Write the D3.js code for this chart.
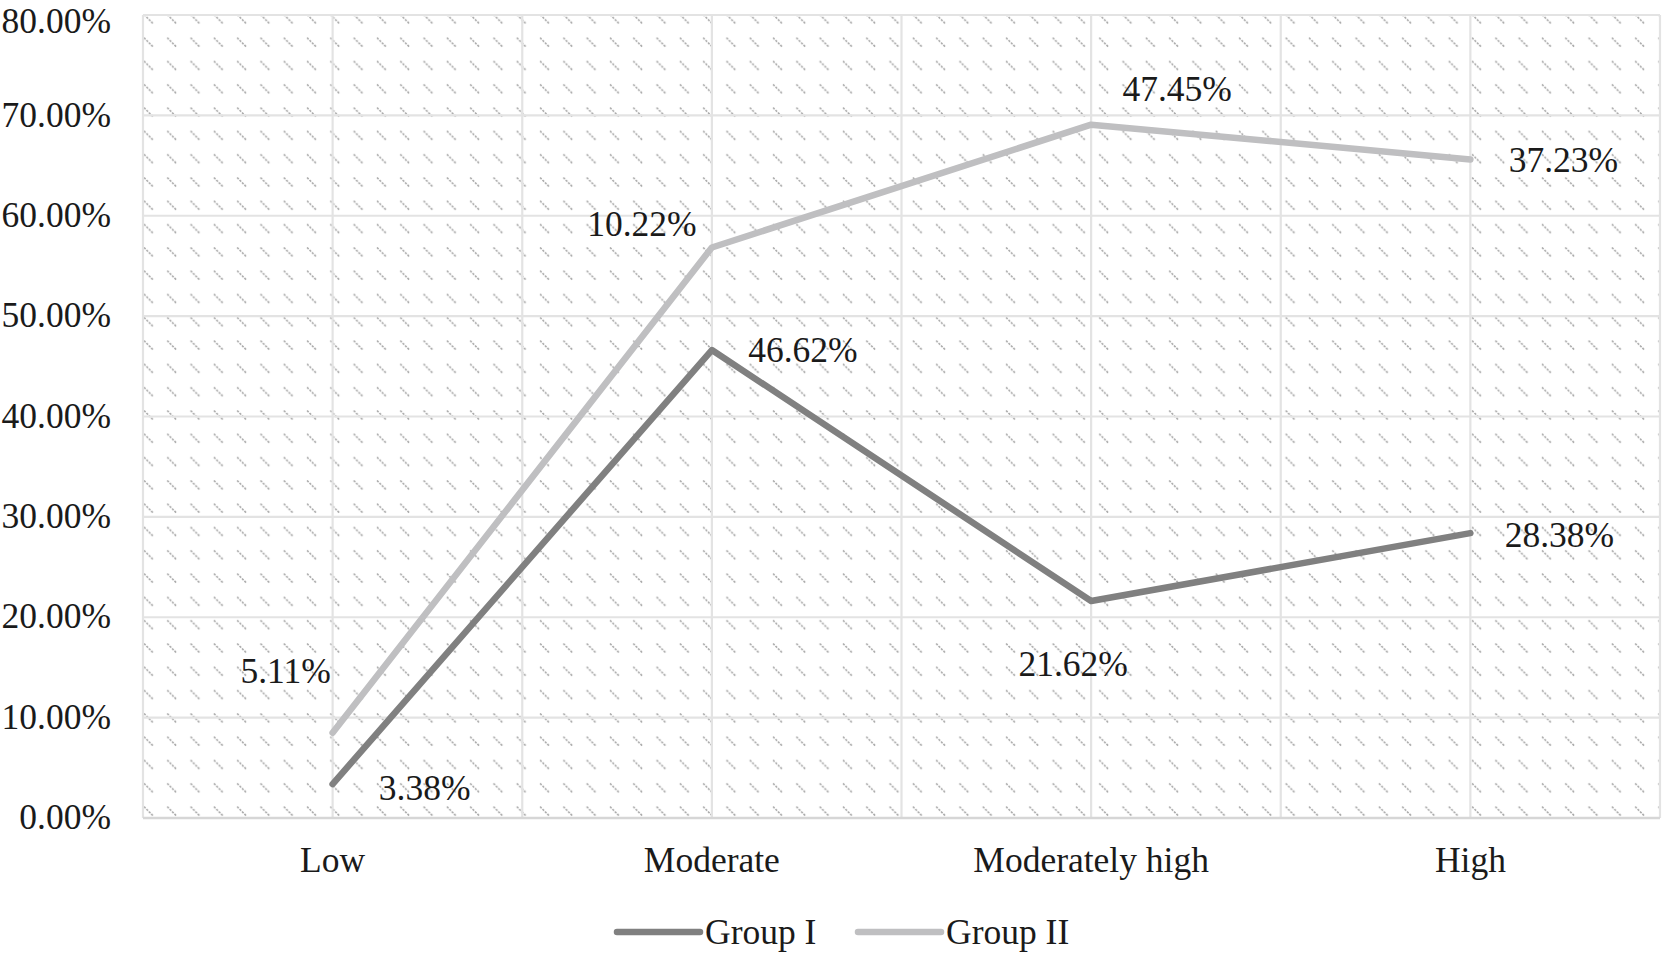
<!DOCTYPE html>
<html>
<head>
<meta charset="utf-8">
<script src="https://cdn.jsdelivr.net/npm/d3@7"></script>
<style>
  html, body { margin: 0; padding: 0; background: #fff; }
  svg text { font-family: "Liberation Serif", "Times New Roman", serif; fill: #1a1a1a; }
</style>
</head>
<body>
<svg id="chart" width="1663" height="957"></svg>
<script>
// ---- data ----
const categories = ["Low", "Moderate", "Moderately high", "High"];
const seriesNames = ["Group I", "Group II"];
const groupI = [3.38, 46.62, 21.62, 28.38];
const groupII = [5.11, 10.22, 47.45, 37.23];
const yTicks = [0, 10, 20, 30, 40, 50, 60, 70, 80];

// ---- layout / style (not data) ----
const W = 1663, H = 957;
const plot = { left: 143, top: 15, right: 1660, bottom: 818 };
const colors = ["#808080", "#bfbfc1"];
const fontSize = 35.5;
// label offsets [dx, dy] from point to label center/baseline, per series, per category
const labelOffsets = [
  [[92, 16], [91, 12], [-18, 75], [89, 14]],
  [[-47, -50], [-70, -11], [86, -24], [93, 13]]
];

const svg = d3.select("#chart");

const x = d3.scaleBand().domain(categories).range([plot.left, plot.right]).padding(0);
const xc = d => x(d) + x.bandwidth() / 2;
const y = d3.scaleLinear().domain([0, 80]).range([plot.bottom, plot.top]);

// stacked values
const stacked = d3.stack().keys([0, 1])(categories.map((c, i) => ({ 0: groupI[i], 1: groupII[i] })));

// pattern
const defs = svg.append("defs");
const cell = 23.3;
const pat = defs.append("pattern")
  .attr("id", "dash")
  .attr("patternUnits", "userSpaceOnUse")
  .attr("x", plot.left).attr("y", plot.top - 1)
  .attr("width", cell).attr("height", cell);
pat.append("line")
  .attr("x1", 1).attr("y1", 0.5).attr("x2", 10).attr("y2", 9.5)
  .attr("stroke", "#a9a9a9").attr("stroke-width", 1.6)
  .attr("stroke-dasharray", "2.2 1.2");

svg.append("rect")
  .attr("x", plot.left).attr("y", plot.top)
  .attr("width", plot.right - plot.left).attr("height", plot.bottom - plot.top)
  .attr("fill", "url(#dash)");

// horizontal gridlines
svg.append("g").selectAll("line").data(yTicks).join("line")
  .attr("x1", plot.left).attr("x2", plot.right)
  .attr("y1", d => y(d)).attr("y2", d => y(d))
  .attr("stroke", "#e3e3e3").attr("stroke-width", 2.2);

// vertical gridlines (band edges and centers)
const vLines = [];
categories.forEach(c => { vLines.push(x(c)); vLines.push(xc(c)); });
vLines.push(plot.right);
svg.append("g").selectAll("line").data(vLines).join("line")
  .attr("x1", d => d).attr("x2", d => d)
  .attr("y1", plot.top).attr("y2", plot.bottom)
  .attr("stroke", "#e3e3e3").attr("stroke-width", 2.2);

// bottom axis line
svg.append("line")
  .attr("x1", plot.left).attr("x2", plot.right)
  .attr("y1", plot.bottom).attr("y2", plot.bottom)
  .attr("stroke", "#d6d6d6").attr("stroke-width", 2.5);

// y axis labels
const yAxis = d3.axisLeft(y).tickValues(yTicks).tickSize(0).tickPadding(0)
  .tickFormat(d => d3.format(".2f")(d) + "%");
const gy = svg.append("g").attr("transform", `translate(${plot.left - 32},0)`).call(yAxis);
gy.select(".domain").remove();
gy.selectAll("text").attr("font-size", fontSize).attr("font-family", null).attr("fill", "#1a1a1a")
  .attr("dy", d => d === 80 ? "0.5em" : "0.3em");

// x axis labels
const xAxis = d3.axisBottom(x).tickSize(0).tickPadding(0);
const gx = svg.append("g").attr("transform", `translate(0,${plot.bottom})`).call(xAxis);
gx.select(".domain").remove();
gx.selectAll("text").attr("font-size", fontSize).attr("font-family", null).attr("fill", "#1a1a1a")
  .attr("y", 54).attr("dy", 0);

// lines
const line = d3.line().x((d, i) => xc(categories[i])).y(d => y(d[1]));
stacked.forEach((s, si) => {
  svg.append("path")
    .datum(s)
    .attr("d", line)
    .attr("fill", "none")
    .attr("stroke", colors[si])
    .attr("stroke-width", 6.5)
    .attr("stroke-linecap", "round")
    .attr("stroke-linejoin", "round");
});

// data labels
const raw = [groupI, groupII];
stacked.forEach((s, si) => {
  s.forEach((d, i) => {
    const [dx, dy] = labelOffsets[si][i];
    svg.append("text")
      .attr("x", xc(categories[i]) + dx)
      .attr("y", y(d[1]) + dy)
      .attr("text-anchor", "middle")
      .attr("font-size", fontSize)
      .text(d3.format(".2f")(raw[si][i]) + "%");
  });
});

// legend
const legend = svg.append("g");
const legendX = [617, 858];
seriesNames.forEach((n, i) => {
  legend.append("line")
    .attr("x1", legendX[i]).attr("x2", legendX[i] + 83)
    .attr("y1", 932).attr("y2", 932)
    .attr("stroke", colors[i]).attr("stroke-width", 6.5).attr("stroke-linecap", "round");
  legend.append("text")
    .attr("x", legendX[i] + 88).attr("y", 944)
    .attr("font-size", fontSize)
    .text(n);
});
</script>
</body>
</html>
